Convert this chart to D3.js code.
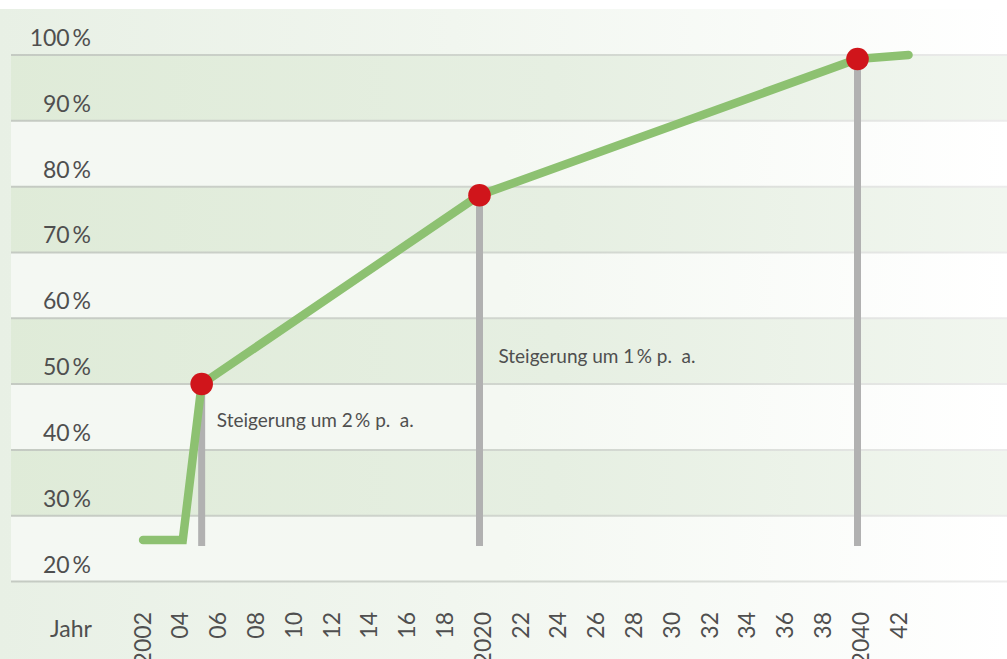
<!DOCTYPE html>
<html><head><meta charset="utf-8">
<script src="https://cdn.jsdelivr.net/npm/d3@7"></script>
<style>
body{margin:0;background:#fff}
svg{display:block}
text{font-family:Lato,"Open Sans",sans-serif;fill:#4f4f4f}
</style>
</head><body>
<svg id="c" width="1007" height="659"></svg>
<script>
// ---- data ----
const years  = [2002.2, 2004.3, 2005.3, 2020, 2040, 2042.7];
const shares = [26.3, 26.3, 50, 78.7, 99.4, 100];
const markerYears  = [2005.3, 2020, 2040];
const markerShares = [50, 78.7, 99.4];
const stemBase = 25.4;
const yTicks = [20, 30, 40, 50, 60, 70, 80, 90, 100];
const yTickLabels = yTicks.map(v => v + "\u2009%");
const xTicks = [2002,2004,2006,2008,2010,2012,2014,2016,2018,2020,2022,2024,2026,2028,2030,2032,2034,2036,2038,2040,2042];
const xTickLabels = ["2002","04","06","08","10","12","14","16","18","2020","22","24","26","28","30","32","34","36","38","2040","42"];
const xAxisTitle = "Jahr";
const notes = ["Steigerung um 2\u2009% p.\u2002a.", "Steigerung um 1\u2009% p.\u2002a."];
const noteYears = [2006.1, 2021.0];
const noteShares = [43.5, 53.2];

// ---- layout ----
const W = 1007, H = 659;
const svg = d3.select("#c");
const x = d3.scaleLinear().domain([2020, 2040]).range([479.5, 857.5]);
const y = d3.scaleLinear().domain([20, 100]).range([581.5, 55]);
const plotLeft = 11, plotRight = W;

const defs = svg.append("defs");
function grad(id, stops) {
  const g = defs.append("linearGradient").attr("id", id)
    .attr("gradientUnits", "userSpaceOnUse")
    .attr("x1", 0).attr("x2", W).attr("y1", 0).attr("y2", 0);
  stops.forEach(s => g.append("stop").attr("offset", s[0]).attr("stop-color", s[1]));
}
grad("bg",   [[0, "#e8f0e5"], [0.45, "#f1f6ef"], [1, "#ffffff"]]);
grad("row",  [[0, "#f4f8f3"], [0.5, "#f4f8f2"], [1, "#ffffff"]]);
grad("band", [[0, "#dfebd8"], [0.55, "#e6efe2"], [1, "#f1f6ef"]]);
grad("grid", [[0, "#c4cac2"], [0.6, "#d3d8d1"], [1, "#ececec"]]);

svg.append("rect").attr("width", W).attr("height", H).attr("fill", "url(#bg)");
svg.append("rect").attr("width", W).attr("height", 9).attr("fill", "#ffffff");

// rows / bands
const rows = yTicks.slice(0, -1).map((v, i) => [v, yTicks[i + 1]]);
svg.append("g").selectAll("rect").data(rows).join("rect")
  .attr("x", plotLeft).attr("width", plotRight - plotLeft)
  .attr("y", d => y(d[1])).attr("height", d => y(d[0]) - y(d[1]))
  .attr("fill", d => (d[0] / 10) % 2 === 1 ? "url(#band)" : "url(#row)");

// grid lines
svg.append("g").selectAll("line").data(yTicks).join("line")
  .attr("x1", plotLeft).attr("x2", plotRight)
  .attr("y1", d => y(d)).attr("y2", d => y(d))
  .attr("stroke", "url(#grid)").attr("stroke-width", 2);

// y labels
svg.append("g").selectAll("text").data(yTicks).join("text")
  .attr("x", 91).attr("y", d => y(d) - 9)
  .attr("text-anchor", "end").attr("font-size", 23)
  .text((d, i) => yTickLabels[i]);

// x labels
svg.append("g").selectAll("text").data(xTicks).join("text")
  .attr("transform", d => `translate(${x(d) + 3},612) rotate(-90)`)
  .attr("text-anchor", "end").attr("dy", "0.36em").attr("font-size", 23)
  .text((d, i) => xTickLabels[i]);

svg.append("text").attr("x", 50).attr("y", 637).attr("font-size", 23).text(xAxisTitle);

// stems
svg.append("g").selectAll("line").data(markerYears).join("line")
  .attr("x1", d => x(d)).attr("x2", d => x(d))
  .attr("y1", (d, i) => y(markerShares[i])).attr("y2", y(stemBase))
  .attr("stroke", "#b1b1b1").attr("stroke-width", 7);

// line
const pts = years.map((yr, i) => [yr, shares[i]]);
svg.append("path").datum(pts)
  .attr("d", d3.line().x(d => x(d[0])).y(d => y(d[1])))
  .attr("fill", "none").attr("stroke", "#8dc171").attr("stroke-width", 8.5)
  .attr("stroke-linecap", "round").attr("stroke-linejoin", "miter");

// markers
svg.append("g").selectAll("circle").data(markerYears).join("circle")
  .attr("cx", d => x(d)).attr("cy", (d, i) => y(markerShares[i]))
  .attr("r", 11.3).attr("fill", "#d0151b");

// notes
svg.append("g").selectAll("text").data(notes).join("text")
  .attr("x", (d, i) => x(noteYears[i])).attr("y", (d, i) => y(noteShares[i]))
  .attr("font-size", 19).text(d => d);
</script>
</body></html>
